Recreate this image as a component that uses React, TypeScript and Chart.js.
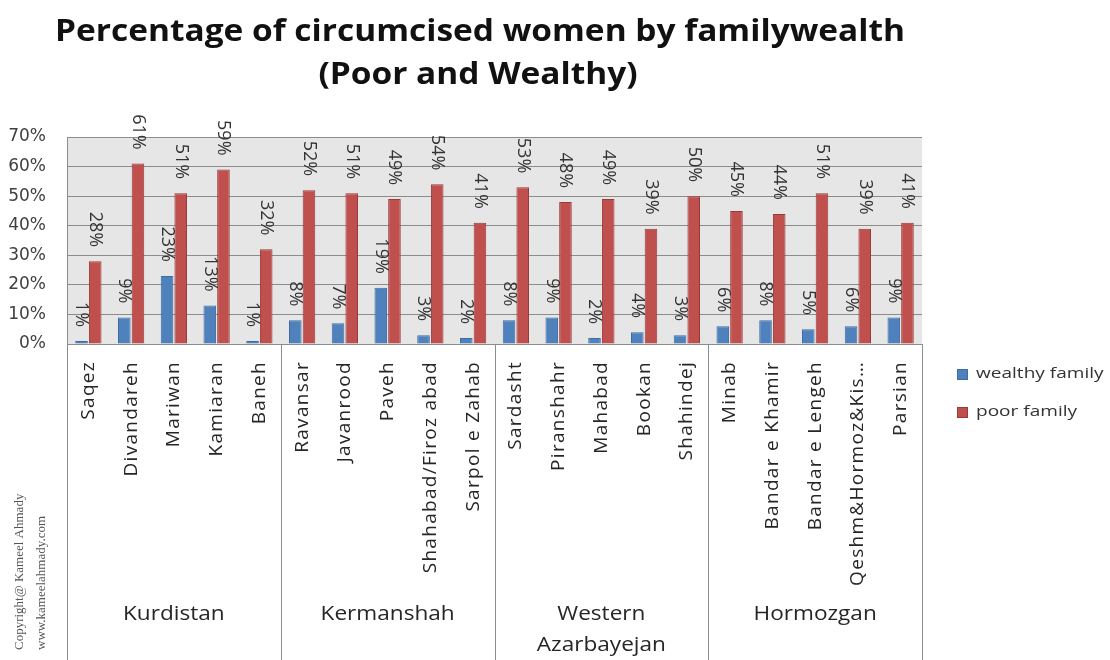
import React, { useEffect, useRef } from "react";
import { Chart, registerables } from "chart.js";

Chart.register(...registerables);

const titleLines = ["Percentage of circumcised women by familywealth", "(Poor and Wealthy)"];
const categories = [
  "Saqez", "Divandareh", "Mariwan", "Kamiaran", "Baneh",
  "Ravansar", "Javanrood", "Paveh", "Shahabad/Firoz abad", "Sarpol e Zahab",
  "Sardasht", "Piranshahr", "Mahabad", "Bookan", "Shahindej",
  "Minab", "Bandar e Khamir", "Bandar e Lengeh", "Qeshm&Hormoz&Kis…", "Parsian",
];
const groupNames = [["Kurdistan"], ["Kermanshah"], ["Western", "Azarbayejan"], ["Hormozgan"]];
const groupSizes = [5, 5, 5, 5];
const wealthy = [1, 9, 23, 13, 1, 8, 7, 19, 3, 2, 8, 9, 2, 4, 3, 6, 8, 5, 6, 9];
const poor = [28, 61, 51, 59, 32, 52, 51, 49, 54, 41, 53, 48, 49, 39, 50, 45, 44, 51, 39, 41];
const seriesNames = ["wealthy family", "poor family"];
const yMax = 70;
const yStep = 10;
const copyrightLines = ["Copyright@ Kameel Ahmady", "www.kameelahmady.com"];

const BLUE = "#4F81BD";
const BLUE_BORDER = "#3D6CA3";
const RED = "#C0504D";
const RED_BORDER = "#983B39";

function stretchText(ctx: CanvasRenderingContext2D, text: string, x: number, y: number, sx: number, align: CanvasTextAlign) {
  ctx.save();
  ctx.translate(x, y);
  ctx.scale(sx, 1);
  ctx.textAlign = align;
  ctx.fillText(text, 0, 0);
  ctx.restore();
}

export default function App() {
  const ref = useRef<HTMLCanvasElement | null>(null);

  useEffect(() => {
    const canvas = ref.current;
    if (!canvas) return;

    const decor = {
      id: "decor",
      beforeDraw(chart: any) {
        const { ctx, chartArea } = chart;
        ctx.save();
        ctx.fillStyle = "#ffffff";
        ctx.fillRect(0, 0, chart.width, chart.height);
        ctx.fillStyle = "#e6e6e6";
        ctx.fillRect(chartArea.left, chartArea.top, chartArea.right - chartArea.left, chartArea.bottom - chartArea.top);
        ctx.restore();
      },
      afterDraw(chart: any) {
        const { ctx, chartArea } = chart;
        const xs = chart.scales.x;
        ctx.save();
        (ctx as any).letterSpacing = "0px";

        // Title (slightly stretched horizontally like the reference)
        ctx.fillStyle = "#111111";
        ctx.font = "bold 30px 'Open Sans'";
        ctx.textBaseline = "middle";
        const tw = ctx.measureText(titleLines[0]).width;
        const tsx = 850 / tw;
        stretchText(ctx, titleLines[0], 480, 32, tsx, "center");
        stretchText(ctx, titleLines[1], 478, 75, tsx, "center");

        // Data labels
        ctx.fillStyle = "#333333";
        ctx.font = "18px 'Open Sans'";
        chart.data.datasets.forEach((ds: any, di: number) => {
          const meta = chart.getDatasetMeta(di);
          meta.data.forEach((bar: any, i: number) => {
            ctx.save();
            ctx.translate(bar.x, bar.y - 14);
            ctx.rotate(Math.PI / 2);
            ctx.textAlign = "right";
            ctx.textBaseline = "middle";
            ctx.fillText(ds.data[i] + "%", 0, 0);
            ctx.restore();
          });
        });

        // Category axis box
        const bottom = chartArea.bottom;
        ctx.strokeStyle = "#8c8c8c";
        ctx.lineWidth = 1;
        const catW = (chartArea.right - chartArea.left) / categories.length;
        let start = 0;
        const bounds: number[] = [chartArea.left];
        groupSizes.forEach((n) => {
          start += n;
          bounds.push(chartArea.left + start * catW);
        });
        bounds.forEach((bx) => {
          ctx.beginPath();
          ctx.moveTo(Math.round(bx) + 0.5, bottom);
          ctx.lineTo(Math.round(bx) + 0.5, 660);
          ctx.stroke();
        });

        // Category labels
        ctx.fillStyle = "#262626";
        ctx.font = "19px 'Open Sans'";
        (ctx as any).letterSpacing = "1.3px";
        categories.forEach((c, i) => {
          const x = xs.getPixelForValue(i);
          ctx.save();
          ctx.translate(x, bottom + 17);
          ctx.rotate(-Math.PI / 2);
          ctx.textAlign = "right";
          ctx.textBaseline = "middle";
          ctx.fillText(c, 0, 0);
          ctx.restore();
        });
        (ctx as any).letterSpacing = "0px";

        // Group labels
        ctx.font = "20px 'Open Sans'";
        ctx.textBaseline = "middle";
        groupNames.forEach((lines, gi) => {
          const cx = (bounds[gi] + bounds[gi + 1]) / 2;
          lines.forEach((t, li) => {
            stretchText(ctx, t, cx, 614 + li * 31, 1.13, "center");
          });
        });

        // Legend
        ctx.font = "15px 'Open Sans'";
        ctx.textBaseline = "middle";
        const legendColors = [[BLUE, BLUE_BORDER], [RED, RED_BORDER]];
        seriesNames.forEach((s, i) => {
          const y = 374 + i * 38;
          ctx.fillStyle = legendColors[i][0];
          ctx.fillRect(957, y - 5, 11, 11);
          ctx.strokeStyle = legendColors[i][1];
          ctx.strokeRect(957.5, y - 4.5, 10, 10);
          ctx.fillStyle = "#333333";
          stretchText(ctx, s, 976, y, 1.27, "left");
        });

        // Copyright
        ctx.fillStyle = "#555555";
        ctx.font = "13px 'Liberation Serif'";
        copyrightLines.forEach((t, i) => {
          ctx.save();
          ctx.translate(20 + i * 22, 650);
          ctx.rotate(-Math.PI / 2);
          ctx.textAlign = "left";
          ctx.textBaseline = "middle";
          ctx.fillText(t, 0, 0);
          ctx.restore();
        });

        ctx.restore();
      },
    };

    const chart = new Chart(canvas, {
      type: "bar",
      data: {
        labels: categories,
        datasets: [
          {
            label: seriesNames[0],
            data: wealthy,
            backgroundColor: BLUE,
            borderColor: BLUE_BORDER,
            borderWidth: 1,
            categoryPercentage: 0.64,
            barPercentage: 0.92,
          },
          {
            label: seriesNames[1],
            data: poor,
            backgroundColor: RED,
            borderColor: RED_BORDER,
            borderWidth: 1,
            categoryPercentage: 0.64,
            barPercentage: 0.92,
          },
        ],
      },
      options: {
        responsive: false,
        animation: false,
        layout: { padding: { left: 0, top: 137, right: 188, bottom: 316 } },
        plugins: { legend: { display: false }, title: { display: false }, tooltip: { enabled: false } },
        scales: {
          x: { display: false },
          y: {
            min: 0,
            max: yMax,
            afterFit: (scale: any) => {
              scale.width = 67;
            },
            ticks: {
              stepSize: yStep,
              padding: 21,
              color: "#404040",
              font: { family: "'DejaVu Sans'", size: 17 },
              callback: (v: any) => v + "%",
            },
            grid: { color: "#8c8c8c", lineWidth: 1, drawTicks: false },
            border: { display: true, color: "#8c8c8c" },
          },
        },
      },
      plugins: [decor],
    });

    return () => chart.destroy();
  }, []);

  return (
    <canvas
      ref={ref}
      width={1110}
      height={660}
      style={{ position: "absolute", left: 0, top: 0, width: 1110, height: 660, display: "block" }}
    />
  );
}
